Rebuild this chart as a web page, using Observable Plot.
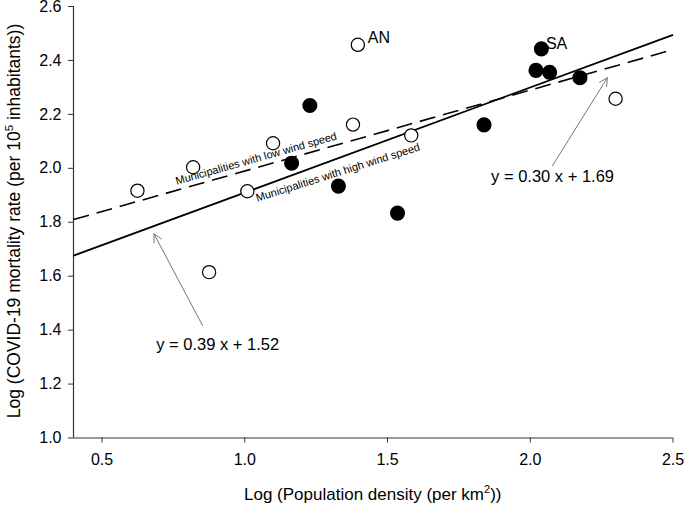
<!DOCTYPE html>
<html>
<head>
<meta charset="utf-8">
<script src="https://cdn.jsdelivr.net/npm/d3@7"></script>
<script src="https://cdn.jsdelivr.net/npm/@observablehq/plot@0.6"></script>
<style>
  html, body { margin: 0; padding: 0; background: #fff; }
  #chart svg { display: block; font-family: "Liberation Sans", Arial, sans-serif; }
</style>
</head>
<body>
<div id="chart"></div>
<script>
// Municipalities with low wind speed (open circles)
const lowX = [0.624, 0.819, 0.875, 1.009, 1.099, 1.379, 1.396, 1.583, 2.299];
const lowY = [1.917, 2.004, 1.615, 1.915, 2.093, 2.162, 2.458, 2.122, 2.258];
const lowLabels = ["", "", "", "", "", "", "AN", "", ""];
// Municipalities with high wind speed (filled circles)
const highX = [1.164, 1.228, 1.328, 1.535, 1.838, 2.020, 2.039, 2.068, 2.174];
const highY = [2.019, 2.233, 1.934, 1.834, 2.161, 2.363, 2.443, 2.356, 2.336];
const highLabels = ["", "", "", "", "", "", "SA", "", ""];

// Fitted lines as printed in the chart: y = slope * x + intercept
const fitNames = ["high", "low"];
const fitSlopes = [0.39, 0.30];
const fitIntercepts = [1.52, 1.69];
const fitTexts = ["y = 0.39 x + 1.52", "y = 0.30 x + 1.69"];
const fitTextX = [0.905, 2.078];
const fitTextY = [1.347, 1.967];
const arrowFromX = [0.852, 2.078];
const arrowFromY = [1.417, 2.010];
const arrowToX = [0.682, 2.270];
const arrowToY = [1.757, 2.336];

const lineLabels = ["Municipalities with low wind speed", "Municipalities with high wind speed"];
const lineLabelX = [1.040, 1.326];
const lineLabelY = [2.036, 1.984];
const lineLabelRotate = [-15.8, -17.5];

const xDomain = [0.4, 2.5];
const yDomain = [1.0, 2.6];
const xTicks = [0.5, 1.0, 1.5, 2.0, 2.5];
const yTicks = [1.0, 1.2, 1.4, 1.6, 1.8, 2.0, 2.2, 2.4, 2.6];

const low = lowX.map((x, i) => ({x, y: lowY[i], label: lowLabels[i]}));
const high = highX.map((x, i) => ({x, y: highY[i], label: highLabels[i]}));
const fits = fitNames.map((name, i) => ({
  name,
  x1: xDomain[0], y1: fitSlopes[i] * xDomain[0] + fitIntercepts[i],
  x2: xDomain[1], y2: fitSlopes[i] * xDomain[1] + fitIntercepts[i]
}));
const eqs = fitTexts.map((t, i) => ({t, x: fitTextX[i], y: fitTextY[i],
  ax1: arrowFromX[i], ay1: arrowFromY[i], ax2: arrowToX[i], ay2: arrowToY[i]}));
const lbls = lineLabels.map((t, i) => ({t, x: lineLabelX[i], y: lineLabelY[i], r: lineLabelRotate[i]}));

const fmt = d3.format(".1f");
const font = "Liberation Sans, Arial, sans-serif";

const chart = Plot.plot({
  width: 684,
  height: 507,
  marginLeft: 73,
  marginRight: 11.5,
  marginTop: 6,
  marginBottom: 69.5,
  style: {fontFamily: font, color: "#000", background: "#fff"},
  x: {domain: xDomain},
  y: {domain: yDomain},
  marks: [
    Plot.axisX({ticks: xTicks, tickFormat: fmt, tickSize: 5, tickPadding: 11, fontSize: 16, label: null, stroke: "#333"}),
    Plot.axisY({ticks: yTicks, tickFormat: fmt, tickSize: 5, tickPadding: 7, fontSize: 16, label: null, stroke: "#333"}),
    Plot.ruleX([xDomain[0]], {stroke: "#333", strokeWidth: 1.2}),
    Plot.ruleY([yDomain[0]], {stroke: "#333", strokeWidth: 1.2}),
    // fitted lines
    Plot.link(fits.filter(d => d.name === "high"), {x1: "x1", y1: "y1", x2: "x2", y2: "y2", stroke: "#000", strokeWidth: 1.8}),
    Plot.link(fits.filter(d => d.name === "low"), {x1: "x1", y1: "y1", x2: "x2", y2: "y2", stroke: "#000", strokeWidth: 1.6, strokeDasharray: "16,8"}),
    // arrows
    Plot.arrow(eqs, {x1: "ax1", y1: "ay1", x2: "ax2", y2: "ay2", stroke: "#666", strokeWidth: 0.9, headLength: 15, headAngle: 55}),
    Plot.text(eqs, {x: "x", y: "y", text: "t", fontSize: 16.5, fill: "#000"}),
    // line labels
    Plot.text(lbls, {x: "x", y: "y", text: "t", rotate: "r", fontSize: 11, fill: "#000"}),
    // points
    Plot.dot(low, {x: "x", y: "y", r: 6.6, stroke: "#000", strokeWidth: 1.2, fill: "#fff"}),
    Plot.dot(high, {x: "x", y: "y", r: 6.8, fill: "#000", stroke: "#000"}),
    Plot.text(low.filter(d => d.label), {x: "x", y: "y", text: "label", dx: 10, dy: -7, textAnchor: "start", fontSize: 16, fill: "#000"}),
    Plot.text(high.filter(d => d.label), {x: "x", y: "y", text: "label", dx: 4.5, dy: -5, textAnchor: "start", fontSize: 16, fill: "#000"})
  ]
});

const svg = d3.select(chart);
// X axis title with superscript
const xt = svg.append("text")
  .attr("x", (73 + 672.5) / 2).attr("y", 500)
  .attr("text-anchor", "middle").attr("font-size", 17).attr("fill", "#000");
xt.append("tspan").text("Log (Population density (per km");
xt.append("tspan").attr("font-size", 11).attr("dy", -7).text("2");
xt.append("tspan").attr("dy", 7).text("))");
// Y axis title with superscript
const yt = svg.append("text")
  .attr("transform", "translate(20,221) rotate(-90)")
  .attr("text-anchor", "middle").attr("font-size", 17.5).attr("fill", "#000");
yt.append("tspan").text("Log (COVID-19 mortality rate (per 10");
yt.append("tspan").attr("font-size", 11.5).attr("dy", -7).text("5");
yt.append("tspan").attr("dy", 7).text(" inhabitants))");

document.getElementById("chart").appendChild(chart);
</script>
</body>
</html>
